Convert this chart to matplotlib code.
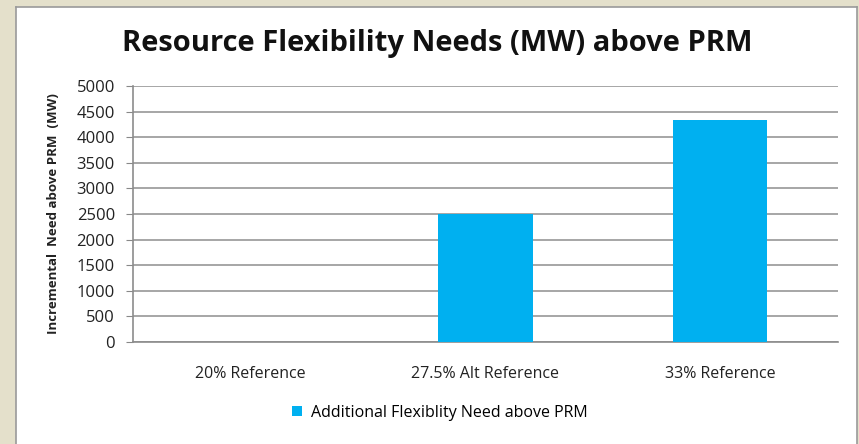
import matplotlib.pyplot as plt

categories = ["20% Reference", "27.5% Alt Reference", "33% Reference"]
flex_need = [0, 2500, 4340]
series_name = "Additional Flexiblity Need above PRM"

plt.rcParams['font.family'] = ['Open Sans', 'DejaVu Sans']

W, H = 859, 444
fig = plt.figure(figsize=(W / 100, H / 100), dpi=100)
fig.patch.set_facecolor('#e4e0cb')

# white chart panel on the beige slide background
bg = fig.add_axes([16 / W, -0.01, (857 - 16) / W, (H - 7) / H + 0.01], zorder=-1)
bg.set_facecolor('white')
bg.set_xticks([])
bg.set_yticks([])
for s in bg.spines.values():
    s.set_color('#9a9a9a')
    s.set_linewidth(1.2)

ax = fig.add_axes([133 / W, 1 - 342 / H, (838 - 133) / W, (342 - 86) / H])
ax.set_facecolor('white')

x = range(len(categories))
ax.bar(x, flex_need, width=0.4, color='#00b0f0', label=series_name, zorder=3)

ax.set_xlim(-0.5, len(categories) - 0.5)
ax.set_ylim(0, 5000)
ax.set_yticks(range(0, 5001, 500))
ax.set_xticks(list(x))
ax.set_xticklabels(categories, fontsize=11.5, color='#222222')
ax.tick_params(axis='y', labelsize=12, colors='#222222', length=5,
               color='#888888', pad=8)
ax.tick_params(axis='x', length=0, pad=17)

ax.yaxis.grid(True, color='#a6a6a6', linewidth=1.4, zorder=0)
for side in ['top', 'right']:
    ax.spines[side].set_visible(False)
ax.spines['left'].set_color('#8c8c8c')
ax.spines['bottom'].set_color('#8c8c8c')
ax.spines['left'].set_linewidth(1.2)
ax.spines['bottom'].set_linewidth(1.2)

ax.set_ylabel("Incremental  Need above PRM  (MW)", fontsize=9.5,
              fontweight='bold', color='#222222', labelpad=12)

fig.text(437 / W, 1 - 43 / H, "Resource Flexibility Needs (MW) above PRM",
         ha='center', va='center', fontsize=21, fontweight='bold', color='#111111')

fig.legend(loc='center', bbox_to_anchor=(440 / W, 1 - 413 / H), frameon=False,
           fontsize=11.5, handlelength=0.6, handleheight=0.6, handletextpad=0.6)

fig.savefig('out.png', dpi=100, facecolor=fig.get_facecolor())
